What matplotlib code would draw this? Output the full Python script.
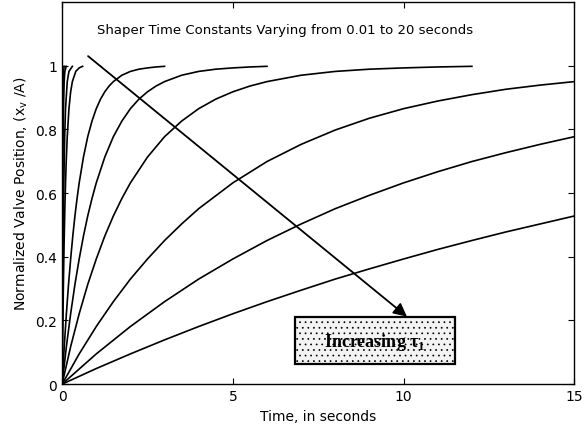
import matplotlib
matplotlib.use("Agg")
import matplotlib.pyplot as plt
from matplotlib.patches import Rectangle


# step responses for each shaper time constant
t_001 = [0, 0.005, 0.01, 0.02, 0.03, 0.04, 0.06]
y_001 = [0, 0.393, 0.632, 0.865, 0.950, 0.982, 0.998]

t_002 = [0, 0.01, 0.02, 0.03, 0.04, 0.06, 0.08, 0.12]
y_002 = [0, 0.393, 0.632, 0.777, 0.865, 0.950, 0.982, 0.998]

t_005 = [0, 0.01, 0.02, 0.03, 0.05, 0.075, 0.1, 0.15, 0.2, 0.3]
y_005 = [0, 0.181, 0.330, 0.451, 0.632, 0.777, 0.865, 0.950, 0.982, 0.998]

t_01 = [0, 0.01, 0.02, 0.04, 0.06, 0.08, 0.1, 0.12, 0.15, 0.2, 0.25, 0.3, 0.4, 0.5, 0.6]
y_01 = [0, 0.095, 0.181, 0.330, 0.451, 0.551, 0.632, 0.699, 0.777, 0.865, 0.918, 0.950,
        0.982, 0.993, 0.998]

t_05 = [0, 0.0625, 0.125, 0.1875, 0.25, 0.3125, 0.375, 0.4375, 0.5, 0.625, 0.75, 0.875,
        1, 1.125, 1.25, 1.375, 1.5, 1.75, 2, 2.25, 2.5, 2.75, 3]
y_05 = [0, 0.118, 0.221, 0.313, 0.393, 0.465, 0.528, 0.583, 0.632, 0.713, 0.777, 0.826,
        0.865, 0.895, 0.918, 0.936, 0.950, 0.970, 0.982, 0.989, 0.993, 0.996, 0.998]

t_1 = [0, 0.125, 0.25, 0.375, 0.5, 0.625, 0.75, 0.875, 1, 1.25, 1.5, 1.75,
       2, 2.25, 2.5, 2.75, 3, 3.5, 4, 4.5, 5, 5.5, 6]
y_1 = [0, 0.118, 0.221, 0.313, 0.393, 0.465, 0.528, 0.583, 0.632, 0.713, 0.777, 0.826,
       0.865, 0.895, 0.918, 0.936, 0.950, 0.970, 0.982, 0.989, 0.993, 0.996, 0.998]

t_2 = [0, 0.25, 0.5, 0.75, 1, 1.25, 1.5, 1.75, 2, 2.5, 3, 3.5,
       4, 4.5, 5, 5.5, 6, 7, 8, 9, 10, 11, 12]
y_2 = [0, 0.118, 0.221, 0.313, 0.393, 0.465, 0.528, 0.583, 0.632, 0.713, 0.777, 0.826,
       0.865, 0.895, 0.918, 0.936, 0.950, 0.970, 0.982, 0.989, 0.993, 0.996, 0.998]

t_5 = [0, 0.5, 1, 1.5, 2, 2.5, 3, 3.5, 4, 5, 6, 7, 8, 9, 10, 11, 12, 13, 14, 15]
y_5 = [0, 0.095, 0.181, 0.259, 0.330, 0.393, 0.451, 0.503, 0.551, 0.632, 0.699, 0.753,
       0.798, 0.835, 0.865, 0.889, 0.909, 0.926, 0.939, 0.950]

t_10 = [0, 1, 2, 3, 4, 5, 6, 7, 8, 9, 10, 11, 12, 13, 14, 15]
y_10 = [0, 0.095, 0.181, 0.259, 0.330, 0.393, 0.451, 0.503, 0.551, 0.593, 0.632, 0.667,
        0.699, 0.727, 0.753, 0.777]

t_20 = [0, 1, 2, 3, 4, 5, 6, 7, 8, 9, 10, 11, 12, 13, 14, 15]
y_20 = [0, 0.049, 0.095, 0.139, 0.181, 0.221, 0.259, 0.295, 0.330, 0.362, 0.393, 0.423,
        0.451, 0.478, 0.503, 0.528]

curves = [(t_001, y_001), (t_002, y_002), (t_005, y_005), (t_01, y_01),
          (t_05, y_05), (t_1, y_1), (t_2, y_2), (t_5, y_5), (t_10, y_10), (t_20, y_20)]

x_ticks = [0, 5, 10, 15]
y_ticks = [0, 0.2, 0.4, 0.6, 0.8, 1]

plt.rcParams["font.family"] = "DejaVu Sans"
plt.rcParams["hatch.color"] = "#a8a8a8"
plt.rcParams["hatch.linewidth"] = 0.5

fig = plt.figure(figsize=(5.86, 4.27), dpi=100)
ax = fig.add_axes([0.106, 0.098, 0.874, 0.895])

for t, y in curves:
    ax.plot(t, y, color="black", linewidth=1.2)

ax.set_xlim(0, 15)
ax.set_ylim(0, 1.2)
ax.set_xticks(x_ticks)
ax.set_xticklabels([str(v) for v in x_ticks])
ax.set_yticks(y_ticks)
ax.set_yticklabels(["0", "0.2", "0.4", "0.6", "0.8", "1"])
ax.tick_params(direction="in", top=True, right=True, length=4, labelsize=10)
for s in ax.spines.values():
    s.set_linewidth(1.0)

ax.set_xlabel("Time, in seconds", fontsize=10)
ax.set_ylabel(r"Normalized Valve Position, (x$_\mathregular{v}$ /A)", fontsize=10)

ax.text(1.03, 1.115, "Shaper Time Constants Varying from 0.01 to 20 seconds",
        fontsize=9.5, va="center", ha="left")

ax.annotate("", xy=(10.1, 0.212), xytext=(0.76, 1.03),
            arrowprops=dict(arrowstyle="-|>", color="black", lw=1.3,
                            mutation_scale=20, shrinkA=0, shrinkB=0))

box = Rectangle((6.83, 0.064), 4.69, 0.146, facecolor="#f3f3f3",
                edgecolor="black", linewidth=1.6, hatch="...", zorder=3)
ax.add_patch(box)
ax.text(9.17, 0.135, r"Increasing τ$_\mathregular{1}$", family="Liberation Serif",
        fontweight="bold", fontsize=13, ha="center", va="center", zorder=4)

fig.savefig("out.png", dpi=100)
